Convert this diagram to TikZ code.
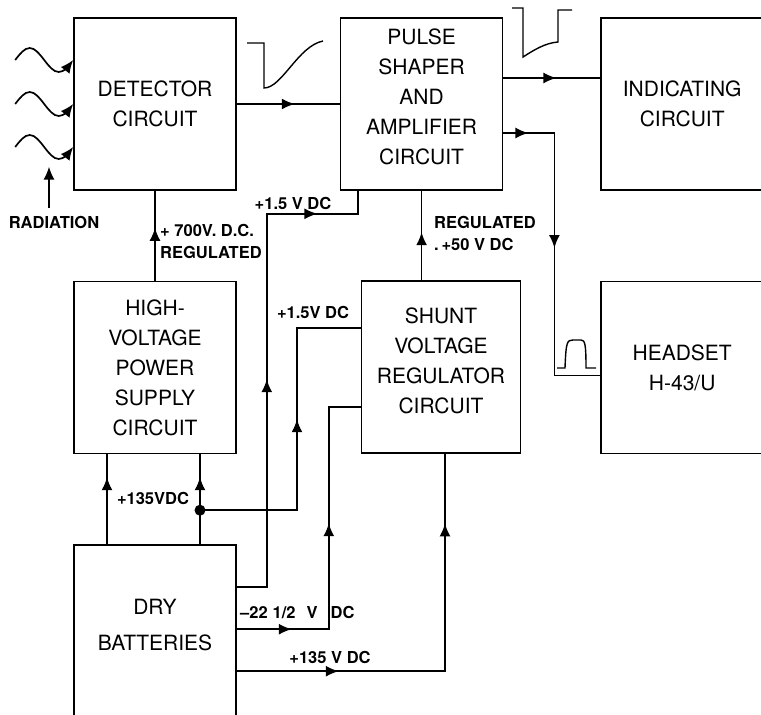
\documentclass[tikz,border=0pt]{standalone}
\usepackage{fontspec}
\setmainfont{TeX Gyre Heros}
\usepackage{tikz}
\usetikzlibrary{positioning, arrows.meta, decorations.markings, calc}

\begin{document}
\begin{tikzpicture}[
        x=1pt, y=-1pt,
        >={Latex[length=13pt,width=11pt]},
        block/.style={draw, line width=1.6pt, minimum width=162pt, minimum height=172pt,
            inner sep=0pt, align=center, font=\fontsize{21}{30}\selectfont},
        line/.style={line width=1.7pt},
        tip/.style={postaction={decorate, decoration={markings,
            mark=at position #1 with {\arrow{Latex[length=13pt,width=11pt]}}}}},
        lbl/.style={font=\fontsize{16.5}{22}\selectfont\bfseries, inner sep=0pt}
    ]

    \useasboundingbox (0,0) rectangle (761,715);
    \clip (0,0) rectangle (761,715);

    % --- Blocks ---
    \node[block] (det) at (155,104) {DETECTOR\\CIRCUIT};
    \node[block, right=103pt of det] (pulse) {PULSE\\SHAPER\\AND\\AMPLIFIER\\CIRCUIT\\[-16pt]\mbox{}};
    \node[block, right=97pt of pulse] (ind) {INDICATING\\CIRCUIT};
    \node[block, below=90pt of det] (hv) {HIGH-\\VOLTAGE\\POWER\\SUPPLY\\CIRCUIT};
    \node[block, minimum width=159pt] (shunt) at (441,367) {SHUNT\\VOLTAGE\\REGULATOR\\CIRCUIT\\[-18pt]\mbox{}};
    \node[block, below=90pt of ind] (head) {HEADSET\\H-43/U};
    % bottom edge runs off the page
    \node[block, minimum height=190pt] (bat) at (155,640) {DRY\\[6pt]BATTERIES\\\mbox{}};

    % --- Radiation in ---
    \foreach \dy in {44,0,-43}
        \draw[line, ->] ([xshift=-58pt, yshift=\dy pt]det.west) sin ++(14.5pt,12pt)
            cos ++(14.5pt,-12pt) sin ++(14.5pt,-12pt) cos ++(14.5pt,12pt);
    \node[lbl] (rad) at (54,222) {RADIATION};
    \draw[line, ->] ([xshift=-5pt, yshift=8pt]rad.north) -- ++(0,-41);

    % --- Wave shapes ---
    \draw[line width=1.4pt] (247,43) -- (264,43) -- (264,88)
        .. controls (282,88) and (298,46) .. (323,41);
    \draw[line width=1.4pt] (512,8) -- (523,8) -- (523,57)
        .. controls (534,50) and (545,43) .. (558,42) -- (558,10) -- (572,10);
    \draw[line width=1.4pt] (557,368) -- (565,368) .. controls (566,342) and (567,340) .. (573,340)
        -- (581,340) .. controls (585,340) and (586,344) .. (586,368) -- (596,368);

    % --- Signal path ---
    \draw[line, tip=58pt] (det) -- (pulse);
    \draw[line, tip=53pt] ([yshift=26pt]pulse.east) -- ([yshift=26pt]ind.west);
    \draw[line, tip=25pt, tip=166pt] ([yshift=-29pt]pulse.east) -- ++(51,0) |- ([yshift=-8pt]head.west);

    % --- Regulated supplies ---
    \draw[line, tip=53pt] (hv) -- (det);
    \node[lbl, anchor=west, align=left] (hvlbl) at (160,241) {+ 700V. D.C.\\REGULATED};
    \draw[line, tip=48pt] (pulse.south |- shunt.north) -- (pulse.south);
    \node[lbl, anchor=west, align=left] (reglbl) at (434,233) {REGULATED\\.\,+50 V DC};

    % --- Battery outputs ---
    \draw[line, tip=67pt] ([xshift=-48pt]bat.north) -- ([xshift=-48pt]hv.south);
    \draw[line, tip=67pt] ([xshift=45pt]bat.north) -- ([xshift=45pt]hv.south);
    \coordinate (jn) at ([xshift=45pt, yshift=34pt]bat.north);
    \fill (jn) circle (5.5pt);
    \node[lbl] (hvin) at (153,498) {+135VDC};

    \draw[line, tip=188pt] (jn) -- ++(97,0) |- ([yshift=39pt]shunt.west);
    \node[lbl] (lowlbl) at (313,312) {+1.5V DC};

    \draw[line, tip=238pt, tip=454pt] ([yshift=-43pt]bat.north east) -- ++(30,0)
        |- ([xshift=18pt, yshift=-23pt]pulse.south west) -- ([xshift=18pt]pulse.south west);
    \node[lbl] (uplbl) at (293,203) {+1.5 V DC};

    \draw[line, tip=55pt, tip=198pt] ([yshift=-85pt]bat.north east) -- ++(92,0) |- ([yshift=-40pt]shunt.west);
    \node[lbl, anchor=west] (neglbl) at (240,612) {--22\hspace{5pt}1/2\hspace{11pt}V\hspace{13pt}DC};

    \draw[line, tip=102pt, tip=356pt] ([yshift=-127pt]bat.north east) -| ([xshift=4pt]shunt.south);
    \node[lbl] (poslbl) at (330,657) {+135 V DC};

\end{tikzpicture}
\end{document}
